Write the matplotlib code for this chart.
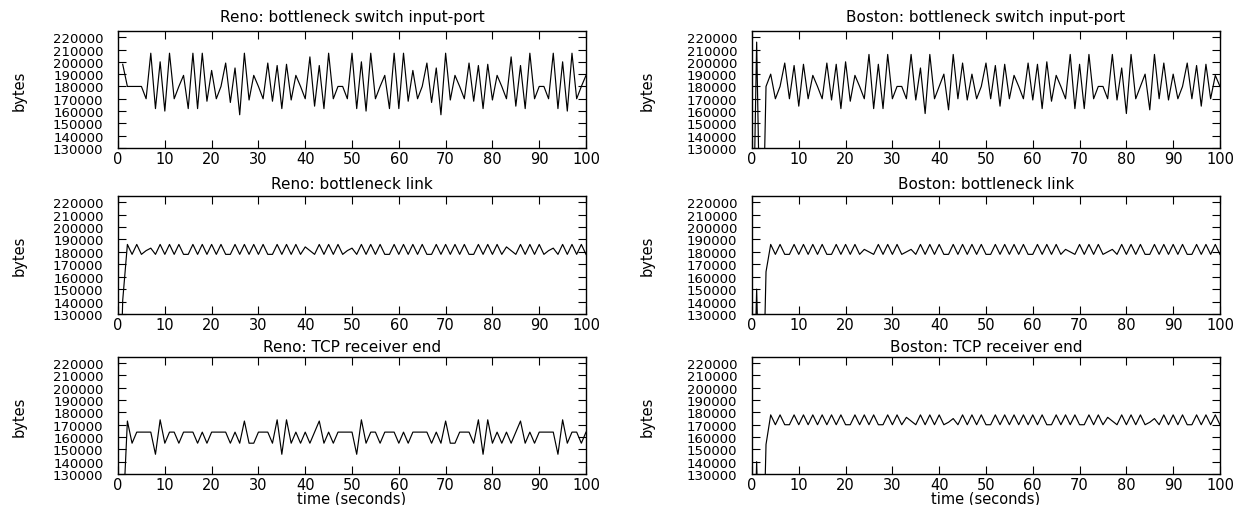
import numpy as np
import matplotlib.pyplot as plt

plt.rcParams['font.family'] = ['DejaVu Sans']

# Время в секундах (отсчеты раз в секунду)
seconds = np.arange(0, 101)

# Очередь в байтах (тысячи байт), nan - нет отсчета
reno_port = [np.nan, 198, 180, 180, 180, 180, 170, 207, 162, 200,
             160, 207, 170, 180, 189, 162, 207, 162, 207, 168,
             193, 170, 180, 199, 167, 195, 157, 207, 169, 189,
             180, 170, 199, 168, 197, 162, 198, 169, 189, 180,
             170, 204, 164, 197, 162, 207, 170, 180, 180, 170,
             207, 162, 200, 160, 207, 170, 180, 189, 162, 207,
             162, 207, 168, 193, 170, 180, 199, 167, 195, 157,
             207, 169, 189, 180, 170, 199, 168, 197, 162, 198,
             169, 189, 180, 170, 204, 164, 197, 162, 207, 170,
             180, 180, 170, 207, 162, 200, 160, 207, 170, 180,
             189]
boston_port = [0, 216, 0, 180, 190, 170, 180, 199, 170, 197,
               164, 198, 170, 189, 180, 170, 199, 169, 198, 162,
               200, 168, 189, 180, 170, 206, 162, 198, 162, 206,
               170, 180, 180, 170, 206, 169, 195, 158, 206, 170,
               180, 190, 161, 206, 170, 199, 169, 190, 170, 180,
               199, 170, 197, 164, 198, 170, 189, 180, 170, 199,
               169, 198, 162, 200, 168, 189, 180, 170, 206, 162,
               198, 162, 206, 170, 180, 180, 170, 206, 169, 195,
               158, 206, 170, 180, 190, 161, 206, 170, 199, 169,
               190, 170, 180, 199, 170, 197, 164, 198, 170, 189,
               180]
reno_link = [0, 141, 186, 178, 186, 178, 181, 183, 178, 186,
             178, 186, 178, 186, 178, 178, 186, 178, 186, 178,
             186, 178, 186, 178, 178, 186, 178, 186, 178, 186,
             178, 186, 178, 178, 186, 178, 186, 178, 186, 178,
             184, 181, 178, 186, 178, 186, 178, 186, 178, 181,
             183, 178, 186, 178, 186, 178, 186, 178, 178, 186,
             178, 186, 178, 186, 178, 186, 178, 178, 186, 178,
             186, 178, 186, 178, 186, 178, 178, 186, 178, 186,
             178, 186, 178, 184, 181, 178, 186, 178, 186, 178,
             186, 178, 181, 183, 178, 186, 178, 186, 178, 186,
             178]
boston_link = [0, 150, 0, 164, 186, 178, 186, 178, 178, 186,
               178, 186, 178, 186, 178, 186, 178, 178, 186, 178,
               186, 178, 186, 178, 182, 180, 178, 186, 178, 186,
               178, 186, 178, 180, 182, 178, 186, 178, 186, 178,
               186, 178, 178, 186, 178, 186, 178, 186, 178, 186,
               178, 178, 186, 178, 186, 178, 186, 178, 186, 178,
               178, 186, 178, 186, 178, 186, 178, 182, 180, 178,
               186, 178, 186, 178, 186, 178, 180, 182, 178, 186,
               178, 186, 178, 186, 178, 178, 186, 178, 186, 178,
               186, 178, 186, 178, 178, 186, 178, 186, 178, 186,
               178]
reno_recv = [np.nan, 90, 173, 155, 164, 164, 164, 164, 146, 174,
             155, 164, 164, 155, 164, 164, 164, 155, 164, 155,
             164, 164, 164, 164, 155, 164, 155, 173, 155, 155,
             164, 164, 164, 155, 174, 146, 174, 155, 164, 155,
             164, 155, 164, 173, 155, 164, 155, 164, 164, 164,
             164, 146, 174, 155, 164, 164, 155, 164, 164, 164,
             155, 164, 155, 164, 164, 164, 164, 155, 164, 155,
             173, 155, 155, 164, 164, 164, 155, 174, 146, 174,
             155, 164, 155, 164, 155, 164, 173, 155, 164, 155,
             164, 164, 164, 164, 146, 174, 155, 164, 164, 155,
             164]
boston_recv = [0, 140, 0, 154, 178, 170, 178, 170, 170, 178,
               170, 178, 170, 178, 170, 178, 170, 178, 170, 178,
               170, 170, 178, 170, 178, 170, 178, 170, 170, 178,
               170, 178, 170, 176, 173, 170, 178, 170, 178, 170,
               178, 170, 172, 175, 170, 178, 170, 178, 170, 178,
               170, 170, 178, 170, 178, 170, 178, 170, 178, 170,
               178, 170, 178, 170, 170, 178, 170, 178, 170, 178,
               170, 170, 178, 170, 178, 170, 176, 173, 170, 178,
               170, 178, 170, 178, 170, 172, 175, 170, 178, 170,
               178, 170, 178, 170, 170, 178, 170, 178, 170, 178,
               170]

titles = [["Reno: bottleneck switch input-port", "Boston: bottleneck switch input-port"],
          ["Reno: bottleneck link", "Boston: bottleneck link"],
          ["Reno: TCP receiver end", "Boston: TCP receiver end"]]
series = [[reno_port, boston_port],
          [reno_link, boston_link],
          [reno_recv, boston_recv]]

y_ticks = np.arange(130000, 220001, 10000)
x_ticks = np.arange(0, 101, 10)

fig = plt.figure(figsize=(12.45, 5.06), dpi=100)

# Положение осей (в долях фигуры)
lefts = [0.0948, 0.6040]
bottoms = [0.7055, 0.3775, 0.0613]
heights = [0.2312, 0.2332, 0.2312]
title_pads = [7.0, 5.5, 4.0]
label_x = [-0.195, -0.207]

for row in range(3):
    for col in range(2):
        ax = fig.add_axes([lefts[col], bottoms[row], 0.3759, heights[row]])
        values = np.array(series[row][col], dtype=float) * 1000
        ax.plot(seconds, values, color='black', lw=0.85)

        ax.set_xlim(0, 100)
        ax.set_ylim(130000, 225000)
        ax.set_xticks(x_ticks)
        ax.set_yticks(y_ticks)
        ax.set_yticklabels([str(v) for v in y_ticks])
        ax.tick_params(axis='both', direction='in', length=5.5, width=0.8,
                       top=True, right=True, color='black')
        ax.tick_params(axis='y', pad=10.5, labelsize=9.5)
        ax.tick_params(axis='x', pad=2.5, labelsize=10.5)
        for s in ax.spines.values():
            s.set_linewidth(1.0)

        ax.set_title(titles[row][col], fontsize=11, pad=title_pads[row])
        ax.set_ylabel('bytes', fontsize=10.5)
        ax.yaxis.set_label_coords(label_x[col], 0.5)
        if row == 2:
            ax.set_xlabel('time (seconds)', fontsize=10.5)
            ax.xaxis.set_label_coords(0.5, -0.14)

plt.savefig('out.png', dpi=100)
